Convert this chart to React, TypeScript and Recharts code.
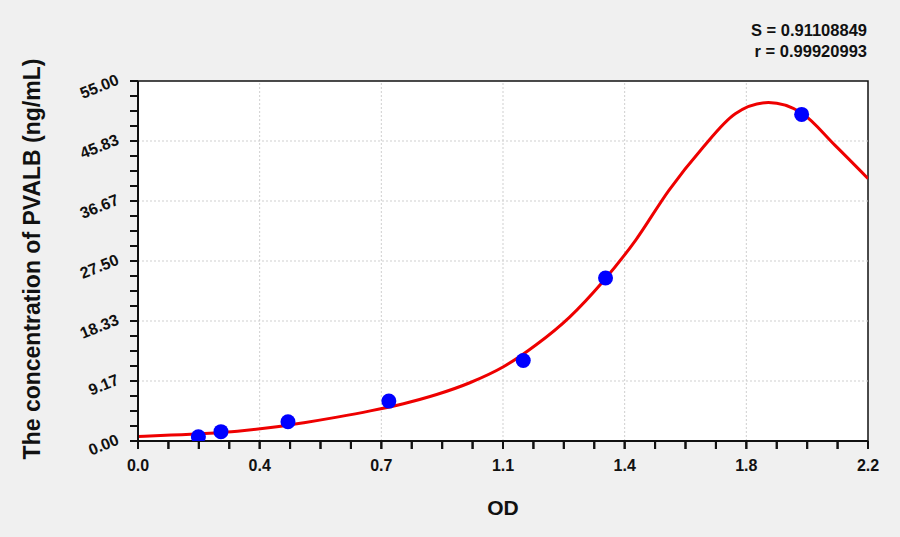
import {
  ComposedChart,
  CartesianGrid,
  Line,
  ReferenceArea,
  ReferenceLine,
  Scatter,
  XAxis,
  YAxis,
} from "recharts";

// fitted curve
const curveOD = [0, 0.1, 0.2, 0.3, 0.4, 0.5, 0.6, 0.7, 0.8, 0.9, 1.0, 1.1, 1.2, 1.3, 1.4, 1.5, 1.6, 1.7, 1.8, 1.9, 2.0, 2.1, 2.2];
const curveConc = [0.7, 0.9, 1.15, 1.5, 2.05, 2.8, 3.65, 4.6, 5.7, 7.1, 8.9, 11.3, 14.7, 18.9, 24.3, 30.7, 38.3, 44.7, 50.0, 51.7, 50.1, 45.2, 40.1];

// standards
const stdOD = [0.182, 0.25, 0.452, 0.756, 1.161, 1.409, 2.0];
const stdConc = [0.66, 1.43, 2.95, 6.1, 12.3, 24.9, 49.9];

const xTickLabels = ["0.0", "0.4", "0.7", "1.1", "1.4", "1.8", "2.2"];
const yTickLabels = ["0.00", "9.17", "18.33", "27.50", "36.67", "45.83", "55.00"];
const statLines = ["S = 0.91108849", "r = 0.99920993"];

const X_MAX = 2.2;
const Y_MAX = 55;
const MINOR = 4;
const TICK = 8;

const curve = curveOD.map((x, i) => ({ x, y: curveConc[i] }));
const standards = stdOD.map((x, i) => ({ x, y: stdConc[i] }));

const xMajor = xTickLabels.map((_, i) => (i * X_MAX) / (xTickLabels.length - 1));
const yMajor = yTickLabels.map((_, i) => (i * Y_MAX) / (yTickLabels.length - 1));
const xTicks = Array.from({ length: (xTickLabels.length - 1) * MINOR + 1 }, (_, i) => (i * X_MAX) / ((xTickLabels.length - 1) * MINOR));
const yTicks = Array.from({ length: (yTickLabels.length - 1) * MINOR + 1 }, (_, i) => (i * Y_MAX) / ((yTickLabels.length - 1) * MINOR));

const font = "'Liberation Sans', Arial, sans-serif";
const ink = "#111";

// props.y is the axis line + TICK here, props.x for the y axis is axis - TICK
function XTick(props: any) {
  const { x, y, index } = props;
  const major = index % MINOR === 0;
  return (
    <g>
      <rect x={x - 1} y={y - TICK} width={2} height={TICK} fill={ink} />
      {major && (
        <text x={x} y={y + 22} textAnchor="middle" fontFamily={font} fontWeight="bold" fontSize={16} fill={ink}>
          {xTickLabels[index / MINOR]}
        </text>
      )}
    </g>
  );
}

function YTick(props: any) {
  const { x, y, index } = props;
  const major = index % MINOR === 0;
  const tx = x - 10;
  const ty = y + 3;
  return (
    <g>
      <rect x={x} y={y - 1} width={TICK} height={2} fill={ink} />
      {major && (
        <text
          x={tx}
          y={ty}
          textAnchor="end"
          transform={`rotate(-22 ${tx} ${ty})`}
          fontFamily={font}
          fontWeight="bold"
          fontSize={16}
          fill={ink}
        >
          {yTickLabels[index / MINOR]}
        </text>
      )}
    </g>
  );
}

export default function App() {
  return (
    <div style={{ position: "relative", width: 900, height: 537, background: "#f0f0f0" }}>
      <style>{`body{margin:0;background:#f0f0f0}`}</style>
      <ComposedChart width={900} height={537} margin={{ top: 81, right: 32, bottom: 66, left: 78 }}>
        <CartesianGrid fill="#ffffff" horizontal={false} vertical={false} />
        <XAxis
          type="number"
          dataKey="x"
          domain={[0, X_MAX]}
          ticks={xTicks}
          interval={0}
          tick={<XTick />}
          tickSize={TICK}
          tickMargin={0}
          tickLine={{ stroke: ink, strokeWidth: 2 }}
          height={30}
          axisLine={{ stroke: ink, strokeWidth: 2 }}
          allowDataOverflow
        />
        <YAxis
          type="number"
          dataKey="y"
          domain={[0, Y_MAX]}
          ticks={yTicks}
          interval={0}
          tick={<YTick />}
          tickSize={TICK}
          tickMargin={0}
          tickLine={{ stroke: ink, strokeWidth: 2 }}
          width={60}
          axisLine={{ stroke: ink, strokeWidth: 2 }}
          allowDataOverflow
          label={{
            content: () => (
              <text
                x={40}
                y={259}
                transform="rotate(-90 40 259)"
                textAnchor="middle"
                fontFamily={font}
                fontWeight="bold"
                fontSize={23}
                fill={ink}
              >
                The concentration of PVALB (ng/mL)
              </text>
            ),
          }}
        />
        {xMajor.slice(1, -1).map((v) => (
          <ReferenceLine key={`vx${v}`} x={v} stroke="#cfcfcf" strokeDasharray="2 2" />
        ))}
        {yMajor.slice(1, -1).map((v) => (
          <ReferenceLine key={`hy${v}`} y={v} stroke="#cfcfcf" strokeDasharray="2 2" />
        ))}
        <ReferenceArea x1={0} x2={X_MAX} y1={0} y2={Y_MAX} fill="none" stroke={ink} strokeWidth={1.5} />
        <Line
          data={curve}
          dataKey="y"
          type="monotone"
          stroke="#ee0000"
          strokeWidth={3}
          dot={false}
          activeDot={false}
          isAnimationActive={false}
        />
        <Scatter
          data={standards}
          dataKey="y"
          fill="#0000ff"
          isAnimationActive={false}
          shape={(p: any) => <circle cx={p.cx} cy={p.cy} r={7.5} fill="#0000ff" />}
        />
      </ComposedChart>
      <div
        style={{
          position: "absolute",
          right: 33,
          top: 20,
          textAlign: "right",
          fontFamily: font,
          fontWeight: "bold",
          fontSize: 16.5,
          lineHeight: "21px",
          color: ink,
        }}
      >
        {statLines.map((s) => (
          <div key={s}>{s}</div>
        ))}
      </div>
      <div
        style={{
          position: "absolute",
          left: 0,
          width: 1006,
          top: 496,
          textAlign: "center",
          fontFamily: font,
          fontWeight: "bold",
          fontSize: 21,
          color: ink,
        }}
      >
        OD
      </div>
    </div>
  );
}
